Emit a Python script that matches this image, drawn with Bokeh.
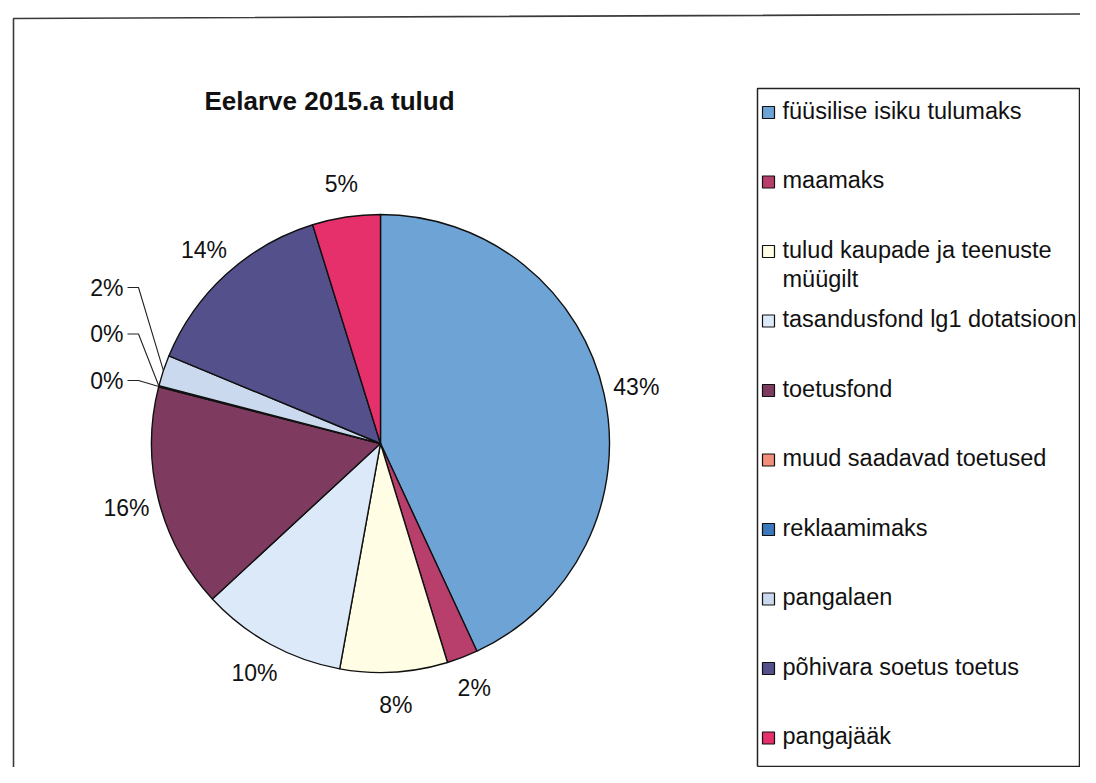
import math
import numpy as np
from bokeh.plotting import figure
from bokeh.models import Range1d, ColumnDataSource
from bokeh.core.properties import value
from bokeh.embed import file_html
from bokeh.resources import INLINE

# ---------------- data ----------------
TITLE = "Eelarve 2015.a tulud"
categories = [
    "füüsilise isiku tulumaks",
    "maamaks",
    "tulud kaupade ja teenuste müügilt",
    "tasandusfond lg1 dotatsioon",
    "toetusfond",
    "muud saadavad toetused",
    "reklaamimaks",
    "pangalaen",
    "põhivara soetus toetus",
    "pangajääk",
]
legend_text = [
    "füüsilise isiku tulumaks",
    "maamaks",
    "tulud kaupade ja teenuste\nmüügilt",
    "tasandusfond lg1 dotatsioon",
    "toetusfond",
    "muud saadavad toetused",
    "reklaamimaks",
    "pangalaen",
    "põhivara soetus toetus",
    "pangajääk",
]
values = [43.2, 2.2, 7.6, 10.3, 15.9, 0.05, 0.03, 2.2, 14.0, 4.8]
colors = ["#6ea3d6", "#b83f6c", "#fffde3", "#dce9f8", "#7f3b5f",
          "#f28e7c", "#3b78bd", "#cad9ee", "#53508c", "#e6306b"]

# ---------------- layout ----------------
W, H = 1080, 767
FONT = "Liberation Sans"


def Y(img_y):
    """picture y (top-down) -> data y (bottom-up)"""
    return H - img_y


p = figure(width=W, height=H, output_backend="svg", toolbar_location=None,
           x_range=Range1d(0, W), y_range=Range1d(0, H),
           x_axis_type=None, y_axis_type=None, min_border=0,
           background_fill_color="white", border_fill_color="white")
p.outline_line_color = None
p.grid.visible = False

# outer chart border (extends beyond the window on right / bottom)
p.line(x=[13, 13, 1200], y=[Y(900), Y(18), Y(13)], line_color="#3a3a3a", line_width=1.6)

# title
p.text(x=[329], y=[Y(100)], text=[TITLE], text_font=value(FONT), text_font_size="26px",
       text_font_style="bold", text_align="center", text_baseline="alphabetic",
       text_color="#111111")

# ---------------- pie ----------------
cx, cy, R = 380, Y(443), 229
vals = np.array(values, dtype=float)
frac = vals / vals.sum()
cum_end = np.cumsum(frac)
cum_start = cum_end - frac
start_angle = math.pi / 2 - 2 * math.pi * cum_start
end_angle = math.pi / 2 - 2 * math.pi * cum_end
mid_angle = math.pi / 2 - 2 * math.pi * (cum_start + frac / 2)
pct = [f"{int(round(f * 100))}%" for f in frac]

src = ColumnDataSource(dict(start=start_angle, end=end_angle, color=colors, cat=categories))
p.wedge(x=cx, y=cy, radius=R, radius_units="screen", start_angle="start", end_angle="end",
        direction="clock", fill_color="color", line_color="#111111", line_width=1.4, source=src)

# labels
r_lab = 262
lx, ly, lt = [], [], []
leader_idx = [i for i in range(len(vals)) if frac[i] < 0.03 and math.cos(mid_angle[i]) < 0]
for i in range(len(vals)):
    if i in leader_idx:
        continue
    lx.append(cx + r_lab * math.cos(mid_angle[i]))
    ly.append(cy + r_lab * math.sin(mid_angle[i]))
    lt.append(pct[i])
p.text(x=lx, y=ly, text=lt, text_font=value(FONT), text_font_size="23px",
       text_align="center", text_baseline="middle", text_color="#111111")

# stacked labels with leader lines for the thin slices on the left
x_right = cx - 257
qx, qy, qt, mx, my = [], [], [], [], []
for k, i in enumerate(leader_idx):
    yy = cy + 63 + 46.5 * k
    qx.append(x_right)
    qy.append(yy)
    qt.append(pct[i])
    ex = cx + R * math.cos(mid_angle[i])
    ey = cy + R * math.sin(mid_angle[i])
    mx.append([x_right + 4, x_right + 15, ex])
    my.append([yy, yy, ey])
p.multi_line(xs=mx, ys=my, line_color="#222222", line_width=1.1)
p.text(x=qx, y=qy, text=qt, text_font=value(FONT), text_font_size="23px",
       text_align="right", text_baseline="middle", text_color="#111111")

# ---------------- legend ----------------
box_l, box_r, box_t, box_b = 757, 1079, Y(88), Y(766)
p.line(x=[box_l, box_r, box_r, box_l, box_l], y=[box_b, box_b, box_t, box_t, box_b],
       line_color="#222222", line_width=1.5)

leg_y0, leg_step, line_gap = 110, 69.5, 29
sw_x, tx_x = 768, 782
sx, sy, tx, ty, tt = [], [], [], [], []
for i, lab in enumerate(legend_text):
    yimg = leg_y0 + leg_step * i
    sx.append(sw_x)
    sy.append(Y(yimg + 2))
    for j, part in enumerate(lab.split("\n")):
        tx.append(tx_x)
        ty.append(Y(yimg + j * line_gap))
        tt.append(part)
p.scatter(x=sx, y=sy, marker="square", size=12, fill_color=colors,
          line_color="#111111", line_width=1.2)
p.text(x=tx, y=ty, text=tt, text_font=value(FONT), text_font_size="23.5px",
       text_align="left", text_baseline="middle", text_color="#111111")

open("out.html", "w").write(file_html(p, INLINE))
